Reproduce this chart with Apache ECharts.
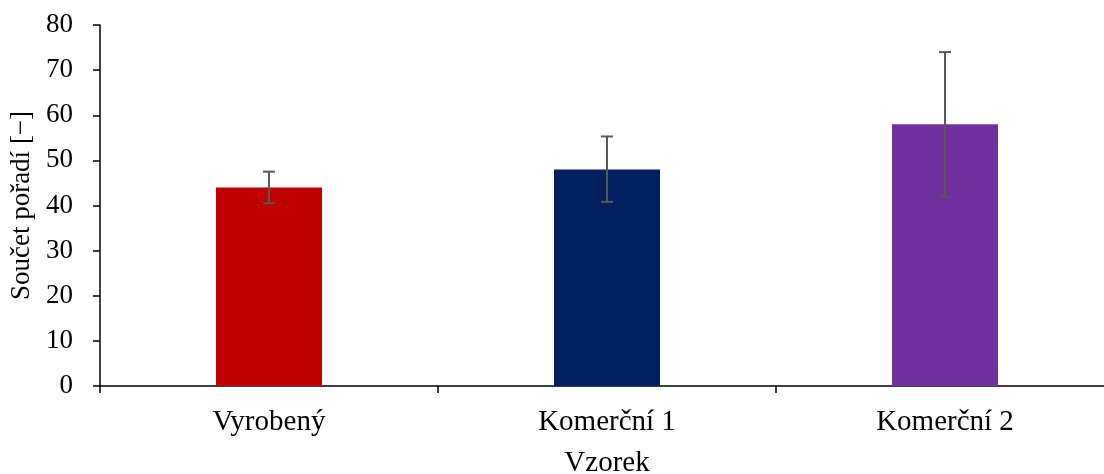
<!DOCTYPE html>
<html>
<head>
<meta charset="utf-8">
<script src="https://cdn.jsdelivr.net/npm/echarts@6/dist/echarts.min.js"></script>
<style>html,body{margin:0;padding:0;background:#fff;overflow:hidden}#c{width:1104px;height:474px}</style>
</head>
<body>
<div id="c"></div>
<script>
const categories = ['Vyrobený', 'Komerční 1', 'Komerční 2'];
const values = [44, 48, 58];
const errLow = [40.5, 40.8, 42];
const errHigh = [47.5, 55.3, 74];
const barColors = ['#C00000', '#002060', '#7030A0'];
const yTicks = {min: 0, max: 80, interval: 10};

const chart = echarts.init(document.getElementById('c'), null, {renderer: 'canvas', width: 1104, height: 474});
const font = '"Liberation Serif", "Times New Roman", serif';
const fs = 27;
const fsx = 29;
chart.setOption({
  animation: false,
  backgroundColor: '#fff',
  grid: {left: 100, top: 25, bottom: 88, right: -10, containLabel: false, outerBoundsMode: 'none'},
  xAxis: {
    type: 'category',
    data: categories,
    name: 'Vzorek',
    nameLocation: 'middle',
    nameGap: 63,
    nameTextStyle: {fontFamily: font, fontSize: fsx, color: '#000'},
    axisLine: {lineStyle: {color: '#000', width: 1.5}},
    axisTick: {show: true, length: 7, lineStyle: {color: '#000', width: 1.5}},
    axisLabel: {fontFamily: font, fontSize: fsx, color: '#000', margin: 22}
  },
  yAxis: {
    type: 'value',
    min: yTicks.min, max: yTicks.max, interval: yTicks.interval,
    name: 'Součet pořadí [−]',
    nameLocation: 'middle',
    nameGap: 61,
    nameTextStyle: {fontFamily: font, fontSize: fs, color: '#000'},
    axisLine: {show: true, lineStyle: {color: '#000', width: 1.5}},
    axisTick: {show: true, length: 7, lineStyle: {color: '#000', width: 1.5}},
    axisLabel: {fontFamily: font, fontSize: fs, color: '#000', margin: 27},
    splitLine: {show: false}
  },
  series: [
    {
      type: 'bar',
      barWidth: 106,
      data: values.map((v, i) => ({value: v, itemStyle: {color: barColors[i]}}))
    },
    {
      type: 'custom',
      z: 10,
      data: categories.map((c, i) => [i, errLow[i], errHigh[i]]),
      renderItem: function (params, api) {
        const x = api.value(0);
        const lo = api.coord([x, api.value(1)]);
        const hi = api.coord([x, api.value(2)]);
        const hw = 6;
        const style = {stroke: '#595959', lineWidth: 2, fill: null};
        return {
          type: 'group',
          children: [
            {type: 'line', shape: {x1: hi[0], y1: hi[1], x2: lo[0], y2: lo[1]}, style: style},
            {type: 'line', shape: {x1: hi[0] - hw, y1: hi[1], x2: hi[0] + hw, y2: hi[1]}, style: style},
            {type: 'line', shape: {x1: lo[0] - hw, y1: lo[1], x2: lo[0] + hw, y2: lo[1]}, style: style}
          ]
        };
      }
    }
  ]
});
</script>
</body>
</html>
